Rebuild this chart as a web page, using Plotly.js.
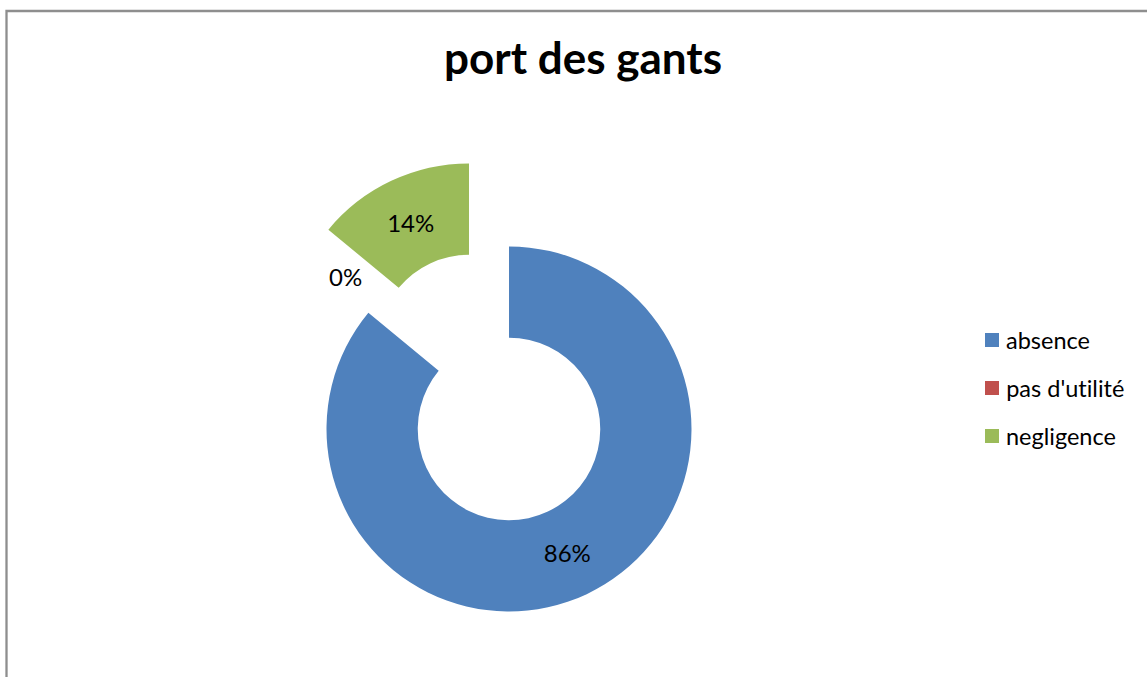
<!DOCTYPE html>
<html>
<head>
<meta charset="utf-8">
<script src="https://cdn.plot.ly/plotly-3.0.1.min.js"></script>
<style>html,body{margin:0;padding:0;background:#fff;}#chart{width:1147px;height:677px;}
#chart text{font-variant-ligatures:none;font-feature-settings:"liga" 0,"clig" 0;}</style>
</head>
<body>
<div id="chart"></div>
<script>
// ---- data ----
const categories = ["absence", "pas d'utilité", "negligence"];
const values = [86, 0, 14];
const colors = ["#4F81BD", "#C0504D", "#9BBB59"];
const chartTitle = "port des gants";

// ---- layout helpers (pixel geometry) ----
const W = 1147, H = 677;
const FONT = "Lato, 'Open Sans', sans-serif";
function domainFor(cx, cy, r) {
  return {
    x: [(cx - r) / W, (cx + r) / W],
    y: [(H - cy - r) / H, (H - cy + r) / H]
  };
}
const total = values.reduce((a, b) => a + b, 0);
const pctText = v => Math.round(v / total * 100) + '%';
const clear = 'rgba(0,0,0,0)';

// main (non-exploded) ring: absence + pas d'utilité
const traceMain = {
  type: 'pie',
  labels: categories,
  values: values,
  hole: 0.5,
  sort: false,
  direction: 'clockwise',
  rotation: 0,
  marker: { colors: values.map((v, i) => i === 2 ? clear : colors[i]), line: { width: 0 } },
  texttemplate: values.map((v, i) => i === 0 ? pctText(v) : ''),
  textposition: 'inside',
  insidetextorientation: 'horizontal',
  textfont: { family: FONT, size: 24, color: '#000' },
  domain: domainFor(509, 429, 182.5),
  showlegend: false,
  hoverinfo: 'label+percent'
};
// exploded slice: negligence
const traceExploded = {
  type: 'pie',
  labels: categories,
  values: values,
  hole: 0.5,
  sort: false,
  direction: 'clockwise',
  rotation: 0,
  marker: { colors: values.map((v, i) => i === 2 ? colors[i] : clear), line: { width: 0 } },
  texttemplate: values.map((v, i) => i === 2 ? pctText(v) : ''),
  textposition: 'inside',
  insidetextorientation: 'horizontal',
  textfont: { family: FONT, size: 24, color: '#000' },
  domain: domainFor(469, 346, 182.5),
  showlegend: false,
  hoverinfo: 'label+percent'
};

// legend built from categories/colors
const legendX = 985, legendY0 = 340, legendStep = 48, sq = 14;
const shapes = [{
  type: 'rect', xref: 'paper', yref: 'paper',
  x0: 6.5 / W, x1: 1.1, y0: -0.1, y1: 1 - 11 / H,
  line: { color: '#8E8E8E', width: 2.3 }, fillcolor: 'rgba(0,0,0,0)', layer: 'above'
}];
const annotations = [];
categories.forEach((c, i) => {
  const cy = legendY0 + i * legendStep;
  shapes.push({
    type: 'rect', xref: 'paper', yref: 'paper',
    x0: legendX / W, x1: (legendX + sq) / W,
    y0: 1 - (cy + sq / 2) / H, y1: 1 - (cy - sq / 2) / H,
    line: { width: 0 }, fillcolor: colors[i]
  });
  annotations.push({
    xref: 'paper', yref: 'paper', x: 1004 / W, y: 1 - cy / H,
    xanchor: 'left', yanchor: 'middle', showarrow: false,
    text: c, font: { family: FONT, size: 23.5, color: '#000' }
  });
});
// zero-value slice label
annotations.push({
  xref: 'paper', yref: 'paper', x: 345.5 / W, y: 1 - 276 / H,
  xanchor: 'center', yanchor: 'middle', showarrow: false,
  text: pctText(values[1]), font: { family: FONT, size: 24, color: '#000' }
});

const layout = {
  width: W, height: H,
  margin: { l: 0, r: 0, t: 0, b: 0 },
  paper_bgcolor: '#fff',
  title: {
    text: '<b>' + chartTitle + '</b>',
    x: 583 / W, xanchor: 'center', xref: 'paper',
    y: 1 - 58.5 / H, yanchor: 'middle', yref: 'container',
    font: { family: FONT, size: 44, color: '#000' }
  },
  showlegend: false,
  shapes: shapes,
  annotations: annotations
};

Plotly.newPlot('chart', [traceMain, traceExploded], layout, { displayModeBar: false, staticPlot: true });
</script>
</body>
</html>
